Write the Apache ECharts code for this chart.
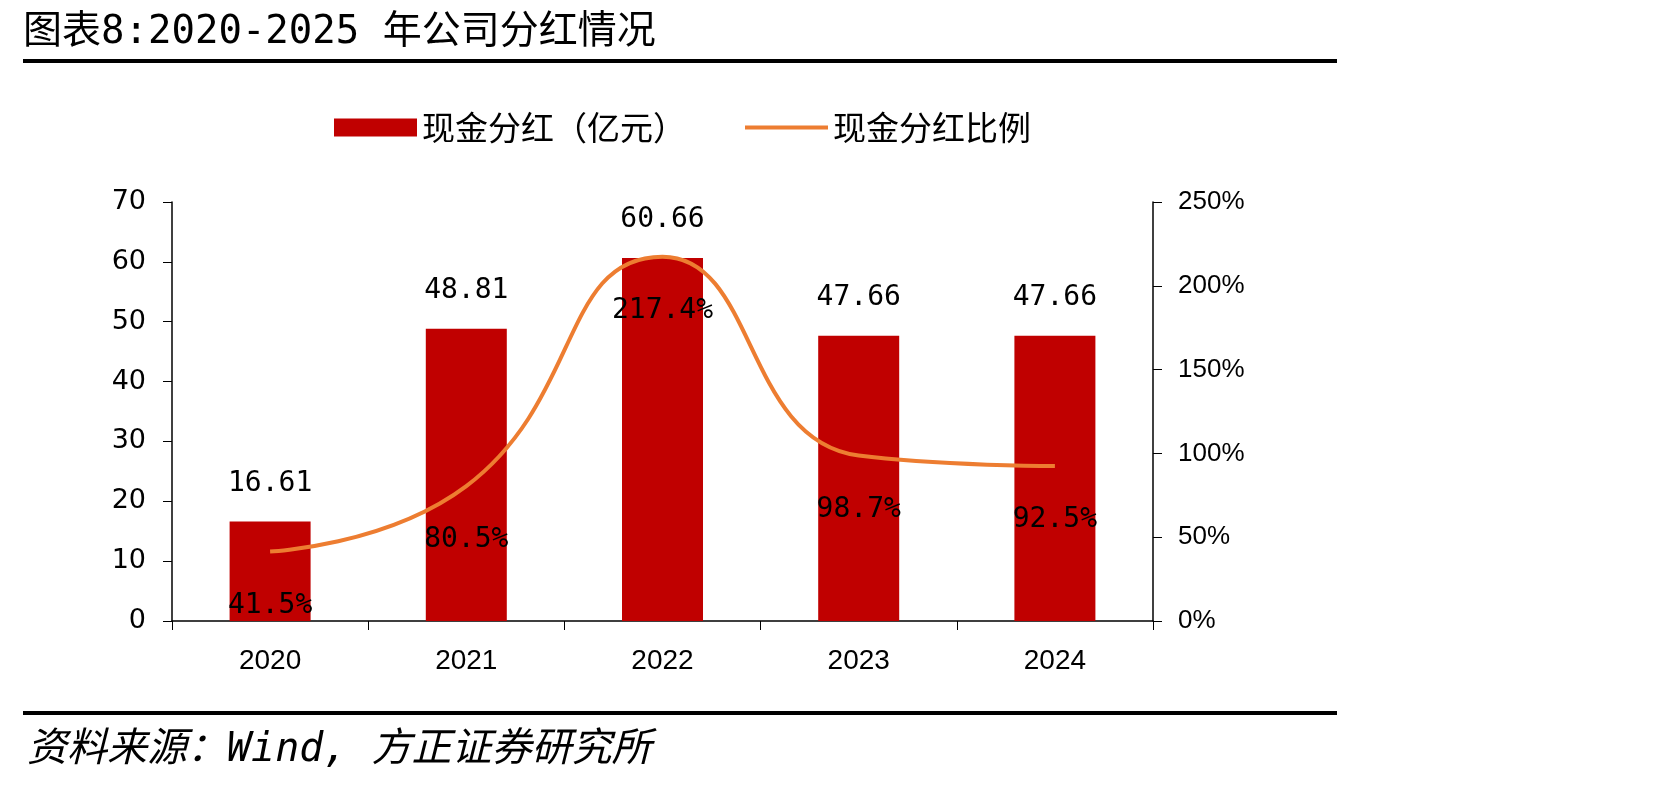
<!DOCTYPE html>
<html>
<head>
<meta charset="utf-8">
<script src="https://cdn.jsdelivr.net/npm/echarts@6/dist/echarts.min.js"></script>
<style>
  html, body { margin: 0; padding: 0; background: #fff; }
  #chart { width: 1671px; height: 785px; }
</style>
</head>
<body>
<div id="chart"></div>
<script>
// 年份
const years = ['2020', '2021', '2022', '2023', '2024']
// 现金分红（亿元）
const dividend = [16.61, 48.81, 60.66, 47.66, 47.66]
// 现金分红比例 (%)
const payoutRatio = [41.5, 80.5, 217.4, 98.7, 92.5]

const titleText = '图表8:2020-2025 年公司分红情况'
const sourceText = '资料来源：Wind, 方正证券研究所'

const monoFont = '"DejaVu Sans Mono", "Noto Sans CJK SC", sans-serif'

const chart = echarts.init(document.getElementById('chart'))

chart.setOption({
  backgroundColor: '#fff',
  animation: false,
  graphic: [
    {
      type: 'text', left: 23, top: 13,
      style: { text: titleText, font: '39px ' + monoFont, fill: '#000' }
    },
    {
      type: 'rect', shape: { x: 23, y: 59, width: 1314, height: 4 },
      style: { fill: '#000' }
    },
    {
      type: 'rect', shape: { x: 23, y: 711, width: 1314, height: 4 },
      style: { fill: '#000' }
    },
    {
      type: 'text', left: 27, top: 731,
      style: { text: sourceText, font: 'italic 40px ' + monoFont, fill: '#000' }
    }
  ],
  legend: {
    left: 329,
    top: 106,
    itemWidth: 83,
    itemHeight: 18,
    itemGap: 59,
    textStyle: { fontSize: 33, color: '#000', fontFamily: '"Noto Sans CJK SC"' },
    data: [
      { name: '现金分红（亿元）', icon: 'rect' },
      // 细线图例：上下留空的矩形路径
      { name: '现金分红比例', icon: 'path://M0,0 M0,7 L83,7 L83,11 L0,11 Z M83,18' }
    ]
  },
  grid: { left: 172, right: 518, top: 202, bottom: 164 },
  xAxis: {
    type: 'category',
    data: years,
    axisLine: { lineStyle: { color: '#000', width: 1.5 } },
    axisTick: { show: true, length: 9, lineStyle: { color: '#000' } },
    axisLabel: { color: '#000', fontSize: 28, margin: 26, fontFamily: '"Liberation Sans", Arial' }
  },
  yAxis: [
    {
      type: 'value', min: 0, max: 70, interval: 10,
      splitLine: { show: false },
      axisLine: { show: true, lineStyle: { color: '#000', width: 1.5 } },
      axisTick: { show: true, length: 9, lineStyle: { color: '#000' } },
      axisLabel: { color: '#000', fontSize: 27, margin: 26, fontFamily: '"DejaVu Sans"' }
    },
    {
      type: 'value', min: 0, max: 250, interval: 50,
      splitLine: { show: false },
      axisLine: { show: true, lineStyle: { color: '#000', width: 1.5 } },
      axisTick: { show: true, length: 9, lineStyle: { color: '#000' } },
      axisLabel: { color: '#000', fontSize: 26, margin: 25, formatter: '{value}%', fontFamily: '"Liberation Sans", Arial' }
    }
  ],
  series: [
    {
      name: '现金分红（亿元）',
      type: 'bar',
      data: dividend,
      barWidth: 81,
      itemStyle: { color: '#C00000' },
      label: {
        show: true, position: 'top', distance: 24,
        color: '#000', fontSize: 28, fontFamily: monoFont,
        formatter: p => p.value.toFixed(2)
      }
    },
    {
      name: '现金分红比例',
      type: 'line',
      yAxisIndex: 1,
      data: payoutRatio,
      smooth: true,
      showSymbol: true,
      symbol: 'circle',
      symbolSize: 0.1,
      lineStyle: { color: '#ED7D31', width: 4 },
      itemStyle: { color: '#ED7D31' },
      label: {
        show: true, position: 'bottom', distance: 40,
        color: '#000', fontSize: 28, fontFamily: monoFont,
        formatter: p => p.value.toFixed(1) + '%'
      }
    }
  ]
})
</script>
</body>
</html>
